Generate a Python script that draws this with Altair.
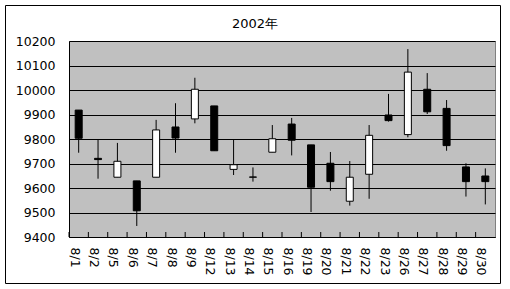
import altair as alt
import pandas as pd

dates = ["8/1", "8/2", "8/5", "8/6", "8/7", "8/8", "8/9", "8/12", "8/13", "8/14", "8/15",
         "8/16", "8/19", "8/20", "8/21", "8/22", "8/23", "8/26", "8/27", "8/28", "8/29", "8/30"]
open_ = [9918, 9721, 9644, 9629, 9644, 9849, 9882, 9935, 9676, 9644, 9746,
         9861, 9776, 9701, 9546, 9656, 9898, 9818, 10003, 9925, 9686, 9649]
high = [9918, 9796, 9784, 9629, 9878, 9946, 10050, 9935, 9800, 9684, 9857,
        9886, 9776, 9747, 9710, 9857, 9984, 10167, 10069, 9959, 9701, 9680]
low = [9744, 9638, 9644, 9445, 9644, 9744, 9864, 9752, 9653, 9626, 9746,
       9733, 9502, 9589, 9528, 9556, 9871, 9807, 9902, 9752, 9565, 9533]
close = [9803, 9716, 9709, 9507, 9837, 9804, 10003, 9752, 9695, 9645, 9801,
         9795, 9603, 9626, 9644, 9815, 9875, 10073, 9911, 9773, 9626, 9626]
y_ticks = list(range(9400, 10201, 100))

df = pd.DataFrame({"date": dates, "open": open_, "high": high, "low": low, "close": close})
df["up"] = df["close"] > df["open"]

W, H = 426, 196
FONT = "DejaVu Sans"

x_axis = alt.Axis(title=None, labelAngle=90, labelAlign="left", labelBaseline="middle",
                  ticks=False, labelPadding=10, labelOffset=-4, grid=False,
                  domainColor="black", labelFont=FONT, labelFontSize=12.5,
                  labelColor="black", labelOverlap=False)
y_axis = alt.Axis(title=None, values=y_ticks, tickCount=20, format="d", ticks=False, labelPadding=14,
                  labelOverlap=False, labelFlush=False,
                  grid=True, gridColor="black", gridOpacity=1, domainColor="black",
                  labelFont=FONT, labelFontSize=12.5, labelColor="black")
x_scale = alt.Scale(paddingInner=0, paddingOuter=0)
y_scale = alt.Scale(domain=[9400, 10200], nice=False, zero=False)

base = alt.Chart(df)

wick = base.mark_rule(color="black", strokeWidth=1).encode(
    x=alt.X("date:N", sort=dates, scale=x_scale, axis=x_axis),
    y=alt.Y("low:Q", scale=y_scale, axis=y_axis),
    y2="high:Q",
)

body = base.mark_bar(size=7, stroke="black", strokeWidth=1).encode(
    x=alt.X("date:N", sort=dates, scale=x_scale, axis=x_axis),
    y=alt.Y("open:Q", scale=y_scale, axis=y_axis),
    y2="close:Q",
    color=alt.condition(alt.datum.up, alt.value("white"), alt.value("black")),
)

ticks = base.mark_rule(color="black", strokeWidth=1, xOffset=-W / 44).encode(
    x=alt.X("date:N", sort=dates, scale=x_scale, axis=x_axis),
    y=alt.value(H - 5),
    y2=alt.value(H),
)

frame = alt.Chart(pd.DataFrame({"f": [0]})).mark_rect(
    fill=None, stroke="black", strokeWidth=1
).encode(
    x=alt.value(-63.5), x2=alt.value(431.5), y=alt.value(-35.5), y2=alt.value(242.5)
)

chart = alt.layer(wick, body, ticks, frame).properties(
    width=W, height=H,
    title=alt.TitleParams("2002年", anchor="middle", fontSize=13, fontWeight="normal",
                          font=FONT, color="black", dx=-27, offset=-26),
    autosize=alt.AutoSizeParams(type="none"),
    padding={"left": 69, "top": 41, "right": 15, "bottom": 52},
    background="white",
).configure_view(fill="#C0C0C0", stroke="#808080", strokeWidth=1)

chart.save("out.html", embed_options={"renderer": "svg", "actions": False})
